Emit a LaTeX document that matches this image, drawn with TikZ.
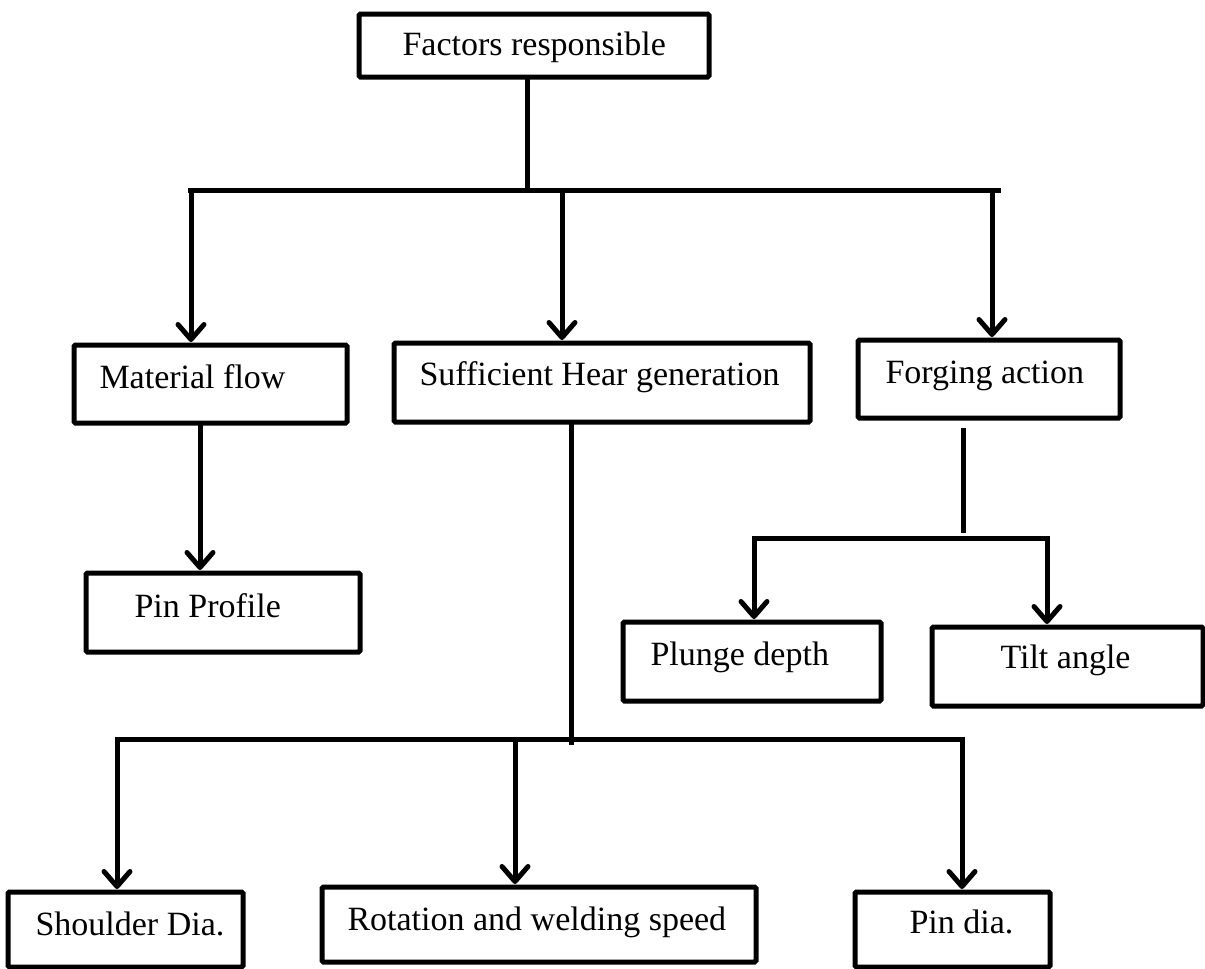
\documentclass[tikz,border=0pt]{standalone}
\usepackage{fontspec}
\setmainfont{Liberation Serif}
\usetikzlibrary{arrows.meta}
\begin{document}
\begin{tikzpicture}[x=1pt,y=-1pt,line width=5pt,
  box/.style={draw, line width=5pt, rounded corners=1.5pt, inner sep=0pt, outer sep=0pt, anchor=north west},
  lbl/.style={anchor=base west, inner sep=0pt, font=\fontsize{34}{40}\selectfont},
  arr/.style={-{Straight Barb[length=15pt,width=26pt,round]}, shorten >=3pt},
  bar/.style={line cap=rect}]
\useasboundingbox (0,0) rectangle (1205,969);

% boxes
\node[box, minimum width=350pt, minimum height=63pt] (top) at (359,14) {};
\node[box, minimum width=273pt, minimum height=78pt] (mf) at (74,345) {};
\node[box, minimum width=416pt, minimum height=79pt] (sh) at (394,343) {};
\node[box, minimum width=262pt, minimum height=78pt] (fa) at (858,340) {};
\node[box, minimum width=274pt, minimum height=79pt] (pp) at (86,573) {};
\node[box, minimum width=258pt, minimum height=79pt] (pd) at (623,622) {};
\node[box, minimum width=271pt, minimum height=79pt] (ta) at (932,627) {};
\node[box, minimum width=235pt, minimum height=75pt] (sd) at (8,892) {};
\node[box, minimum width=434pt, minimum height=75pt] (rw) at (322,887) {};
\node[box, minimum width=195pt, minimum height=75pt] (pdia) at (855,892) {};

% labels
\node[lbl] (ttop) at (400,55) {Factors responsible};
\node[lbl] (tmf) at (97,388) {Material flow};
\node[lbl] (tsh) at (417,385) {Sufficient Hear generation};
\node[lbl] (tfa) at (883,383) {Forging action};
\node[lbl] (tpp) at (132,617) {Pin Profile};
\node[lbl] (tpd) at (648,665) {Plunge depth};
\node[lbl] (tta) at (998,668) {Tilt angle};
\node[lbl] (tsd) at (33,935) {Shoulder Dia.};
\node[lbl] (trw) at (345,930) {Rotation and welding speed};
\node[lbl] (tpdia) at (907,933) {Pin dia.};

% junction coordinates
\coordinate (j0) at (527,190);
\coordinate (hl) at (190,190);
\coordinate (hr) at (998,190);
\coordinate (a1) at (191,190);
\coordinate (a2) at (562,190);
\coordinate (a3) at (992,190);
\coordinate (m1) at (200,0);
\coordinate (s1) at (571,0);
\coordinate (s2) at (571,745);
\coordinate (bl) at (117,739);
\coordinate (br) at (962,739);
\coordinate (b2) at (515,739);
\coordinate (f1) at (963,428);
\coordinate (f2) at (963,533);
\coordinate (fl) at (754,538);
\coordinate (fr) at (1047,538);

% top tree
\draw (j0 |- top.south) -- (j0);
\draw[bar] (hl) -- (hr);
\draw[arr] (a1) -- (a1 |- mf.north);
\draw[arr] (a2) -- (a2 |- sh.north);
\draw[arr] (a3) -- (a3 |- fa.north);

% material flow
\draw[arr] (m1 |- mf.south) -- (m1 |- pp.north);

% sufficient heat
\draw (s1 |- sh.south) -- (s2);
\draw[bar] (bl) -- (br);
\draw[arr] (bl) -- (bl |- sd.north);
\draw[arr] (b2) -- (b2 |- rw.north);
\draw[arr] (br) -- (br |- pdia.north);

% forging
\draw (f1) -- (f2);
\draw[bar] (fl) -- (fr);
\draw[arr] (fl) -- (fl |- pd.north);
\draw[arr] (fr) -- (fr |- ta.north);
\end{tikzpicture}
\end{document}
